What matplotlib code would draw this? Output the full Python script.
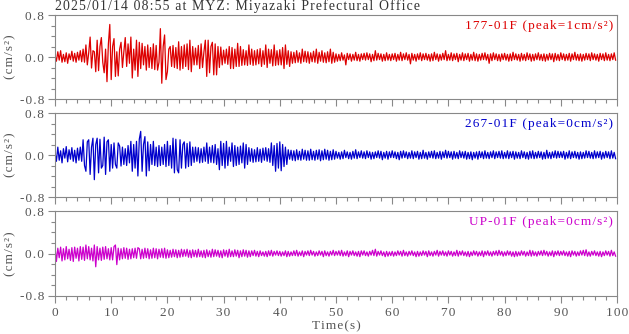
import matplotlib.pyplot as plt
import numpy as np

plt.rcParams['font.family'] = ['Liberation Serif', 'DejaVu Serif']

title = "2025/01/14 08:55 at MYZ: Miyazaki Prefectural Office"
names = ["177-01F", "267-01F", "UP-01F"]
peaks = [1, 0, 0]
colors = ["#dd0000", "#0000cc", "#cc00cc"]
dt = 0.25  # s, one value every quarter second

# acceleration, in 0.01 cm/s2
acc_177 = [
    3, -8, 10, -6, 12, -10, 5, -9, 8, -12, 6, -5, 11, -8, 7, -10, 9, -6, 12, -9,
    15, -10, 23, -15, 8, 38, -21, 12, 10, -28, 32, -26, 20, 37, -10, -30, 15, -47, 25, 62,
    -43, 20, 35, -37, 10, -36, 15, 28, -20, 10, 37, -18, 25, -12, 38, -40, 15, -25, 32, -37,
    28, -22, 26, -15, 20, -25, 23, -20, 18, -22, 25, -24, 22, -25, -10, 54, -50, 20, 42, -43,
    -28, 15, 20, -18, 22, -20, 18, -22, 29, -25, 20, -22, 23, -18, 25, -24, 32, -28, 20, -15,
    17, -15, 22, -22, 25, -20, 10, 32, -37, 32, -30, 20, 28, -34, 25, -34, 20, -20, 19, -15,
    13, -12, 15, -14, 20, -22, 18, -22, 15, -18, 26, -18, 20, -16, 14, -15, 12, -16, 23, -14,
    15, -16, 12, -15, 14, -13, 16, -18, 12, -14, 23, -20, 15, -12, 14, -17, 23, -16, 12, -15,
    14, -15, 18, -22, 23, -14, 12, -18, 10, -12, 9, -11, 12, -10, 8, -12, 15, -9, 11, -10,
    10, -12, 8, -9, 11, -10, 15, -12, 9, -8, 12, -10, 8, -11, 10, -9, 15, -12, 9, -10,
    6, -8, 5, -7, 8, -6, 4, -15, 7, -5, 6, -8, 5, -6, 9, -7, 5, -8, 6, -5,
    7, -6, 8, -5, 6, -9, 5, -7, 12, -6, 7, -5, 6, -8, 5, -7, 8, -6, 5, -7,
    6, -5, 7, -8, 5, -6, 9, -7, 6, -5, 8, -6, 5, -13, 7, -6, 5, -8, 6, -5,
    8, -7, 6, -5, 7, -6, 5, -8, 6, -7, 9, -5, 6, -8, 5, -6, 7, -5, 12, -7,
    5, -6, 8, -7, 6, -5, 7, -9, 5, -6, 8, -7, 6, -5, 7, -8, 5, -6, 9, -7,
    6, -8, 5, -6, 7, -5, 8, -6, 5, -12, 6, -7, 8, -5, 6, -7, 5, -8, 6, -5,
    7, -6, 5, -8, 6, -7, 9, -5, 6, -6, 5, -8, 7, -6, 5, -7, 8, -5, 6, -8,
    5, -7, 6, -5, 8, -6, 5, -7, 6, -8, 5, -6, 7, -5, 6, -9, 7, -6, 5, -7,
    8, -5, 6, -7, 5, -6, 7, -8, 6, -5, 9, -6, 5, -7, 6, -8, 5, -6, 7, -5,
    6, -7, 8, -5, 6, -6, 5, -8, 7, -5, 6, -7, 8, -6, 5, -7, 6, -5, 8, -6,
]
acc_267 = [
    5, -12, 15, -10, 8, -15, 12, -6, 16, -13, 10, -8, 14, -12, 9, -15, 13, -10, 15, -12,
    29, -20, -31, 25, 29, -37, 15, 32, -47, 20, 32, -34, 30, -25, -20, 34, -37, 25, 29, -31,
    20, -25, 23, -18, -25, 23, 17, -21, 15, -18, 12, -20, 18, -15, 26, -31, 20, -25, 26, -40,
    30, 45, -31, 20, 35, -40, 25, -30, 20, -18, 26, -20, 15, -22, 18, -20, 15, -18, 20, -22,
    26, -20, 18, -25, 32, -34, 30, -28, -34, 29, -25, 20, 25, -25, 22, -22, 25, -20, 15, -14,
    15, -12, 14, -15, 12, -14, 15, -12, 23, -16, 15, -14, 18, -15, 20, -18, 12, -28, 26, -20,
    22, -25, 26, -20, 15, -12, 23, -22, 18, -20, 15, -18, 17, -15, 23, -25, 20, -18, 14, -12,
    12, -14, 10, -13, 14, -12, 11, -14, 13, -10, 14, -12, 12, -14, 23, -20, 18, -31, 22, -25,
    25, -30, 20, -22, 15, -18, 10, -8, 9, -10, 8, -11, 10, -9, 7, -10, 11, -8, 9, -10,
    8, -10, 11, -9, 7, -10, 9, -8, 10, -11, 8, -9, 11, -8, 9, -10, 7, -9, 10, -8,
    7, -6, 5, -8, 6, -7, 9, -5, 6, -7, 5, -8, 7, -6, 10, -7, 6, -5, 8, -6,
    6, -7, 8, -5, 6, -8, 5, -7, 6, -5, 8, -6, 7, -9, 5, -6, 7, -8, 6, -5,
    8, -5, 6, -7, 5, -9, 7, -6, 8, -5, 6, -7, 5, -6, 8, -7, 6, -5, 7, -8,
    5, -7, 9, -6, 5, -8, 6, -5, 7, -6, 8, -7, 5, -6, 7, -8, 6, -5, 9, -6,
    7, -5, 6, -8, 7, -6, 5, -7, 8, -5, 6, -6, 7, -8, 5, -7, 6, -9, 5, -6,
    6, -8, 7, -5, 6, -7, 8, -6, 5, -7, 6, -5, 8, -7, 6, -5, 7, -6, 8, -7,
    5, -6, 8, -7, 6, -5, 7, -8, 6, -6, 5, -7, 8, -5, 6, -7, 5, -8, 7, -6,
    8, -7, 5, -6, 7, -5, 6, -8, 5, -7, 9, -6, 5, -7, 6, -5, 8, -6, 7, -5,
    6, -5, 7, -8, 5, -6, 8, -7, 6, -5, 7, -6, 5, -8, 6, -7, 5, -6, 8, -5,
    7, -6, 5, -7, 8, -6, 6, -5, 7, -8, 5, -6, 7, -5, 6, -7, 8, -6, 5, -7,
]
acc_up = [
    13, -15, 10, -8, 12, -14, 9, -12, 13, -10, 8, -13, 11, -15, 12, -9, 10, -14, 13, -11,
    12, -13, 16, -10, 13, -12, 10, -14, 16, -25, 13, -12, 10, -13, 12, -11, 13, -10, 9, -12,
    11, -12, 13, 16, -21, 10, -12, 9, -10, 11, -9, 10, -11, 8, -10, 9, -8, 10, -9, 11,
    9, -10, 8, -9, 10, -8, 9, -10, 7, -9, 10, -8, 9, -10, 8, -7, 9, -8, 10, -9,
    7, -8, 6, -7, 8, -6, 7, -8, 6, -7, 8, -6, 7, -5, 8, -7, 6, -8, 7, -6,
    6, -7, 8, -6, 5, -7, 6, -8, 7, -6, 5, -7, 8, -6, 7, -5, 6, -7, 5, -8,
    7, -5, 6, -7, 8, -6, 5, -6, 7, -5, 6, -8, 5, -6, 7, -5, 6, -7, 5, -6,
    5, -4, 6, -5, 4, -6, 5, -4, 3, -5, 4, -6, 5, -4, 6, -5, 4, -3, 5, -4,
    4, -5, 3, -4, 5, -6, 4, -5, 3, -4, 5, -4, 6, -5, 3, -4, 5, -6, 4, -3,
    5, -4, 6, -3, 4, -5, 3, -4, 5, -3, 4, -6, 5, -4, 3, -5, 4, -3, 6, -4,
    4, -3, 5, -4, 6, -5, 3, -4, 5, -6, 4, -3, 5, -4, 3, -5, 4, -6, 5, -3,
    5, -4, 3, -5, 4, -3, 6, -4, 8, -5, 4, -3, 5, -4, 3, -6, 4, -5, 3, -4,
    4, -5, 3, -4, 5, -3, 4, -5, 6, -4, 3, -5, 4, -3, 5, -4, 3, -6, 4, -5,
    3, -4, 5, -3, 4, -6, 5, -4, 3, -5, 4, -3, 6, -5, 4, -3, 5, -4, 3, -5,
    5, -3, 4, -5, 3, -4, 6, -5, 4, -3, 5, -4, 3, -5, 4, -6, 3, -4, 5, -3,
    4, -5, 3, -4, 5, -6, 4, -3, 5, -4, 3, -5, 4, -3, 5, -4, 6, -3, 4, -5,
    3, -4, 5, -3, 4, -5, 3, -6, 4, -5, 3, -4, 5, -3, 4, -5, 3, -4, 6, -5,
    5, -4, 3, -5, 4, -3, 5, -4, 6, -3, 4, -5, 3, -4, 5, -6, 4, -3, 5, -4,
    4, -3, 5, -4, 3, -5, 4, -6, 5, -3, 4, -5, 3, -4, 5, -3, 6, -4, 7, -5,
    3, -5, 4, -3, 5, -4, 3, -5, 4, -6, 3, -4, 5, -3, 4, -5, 6, -4, 3, -5,
]

xticks = list(range(0, 101, 10))
yticks = [-0.8, 0.0, 0.8]
ylabels = ["-0.8", "0.0", "0.8"]


def sp(s):
    # the reference lettering is spaced out a little
    return "\u200a".join(s)


fs = 9.5
tick_col = "#555555"
spine_col = "#888888"

fig = plt.figure(figsize=(6.29, 3.34), dpi=100)
W, H = 629, 334
panels = [(15, 99), (113, 197), (211, 296)]
traces = [acc_177, acc_267, acc_up]

for i, (top, bot) in enumerate(panels):
    ax = fig.add_axes([55 / W, 1 - bot / H, 562 / W, (bot - top) / H])
    y = np.array(traces[i]) / 100.0
    t = np.arange(len(y)) * dt
    ax.plot(t, y, color=colors[i], lw=0.9)
    ax.set_xlim(0, 100)
    ax.set_ylim(-0.8, 0.8)

    ax.set_yticks(yticks, labels=[sp(s) for s in ylabels])
    ax.set_yticks(np.arange(-0.8, 0.81, 0.2), minor=True)
    ax.set_xticks(xticks, labels=[sp(str(v)) for v in xticks])
    ax.set_xticks(range(0, 101, 2), minor=True)
    ax.tick_params(which='both', colors=spine_col, labelcolor=tick_col,
                   labelsize=fs, width=0.8, top=False, right=False)
    ax.tick_params(which='major', length=5, pad=3)
    ax.tick_params(which='minor', length=3)
    if i < 2:
        ax.tick_params(axis='x', labelbottom=False)
    for s in ax.spines.values():
        s.set_color(spine_col)
        s.set_linewidth(0.8)

    ax.set_ylabel(sp("(cm/s²)"), fontsize=fs, color=tick_col, va='center')
    ax.yaxis.set_label_coords(-0.079, 0.5)
    ax.text(0.993, 0.87, sp(f"{names[i]} (peak={peaks[i]}cm/s²)"),
            transform=ax.transAxes, ha='right', va='center',
            fontsize=fs, color=colors[i])
    if i == 2:
        ax.set_xlabel(sp("Time(s)"), fontsize=fs, color=tick_col, labelpad=1)

fig.text(55 / W, 1 - 6 / H, sp(title), ha='left', va='center',
         fontsize=9.9, color="#333333")

fig.savefig("out.png", dpi=100)
